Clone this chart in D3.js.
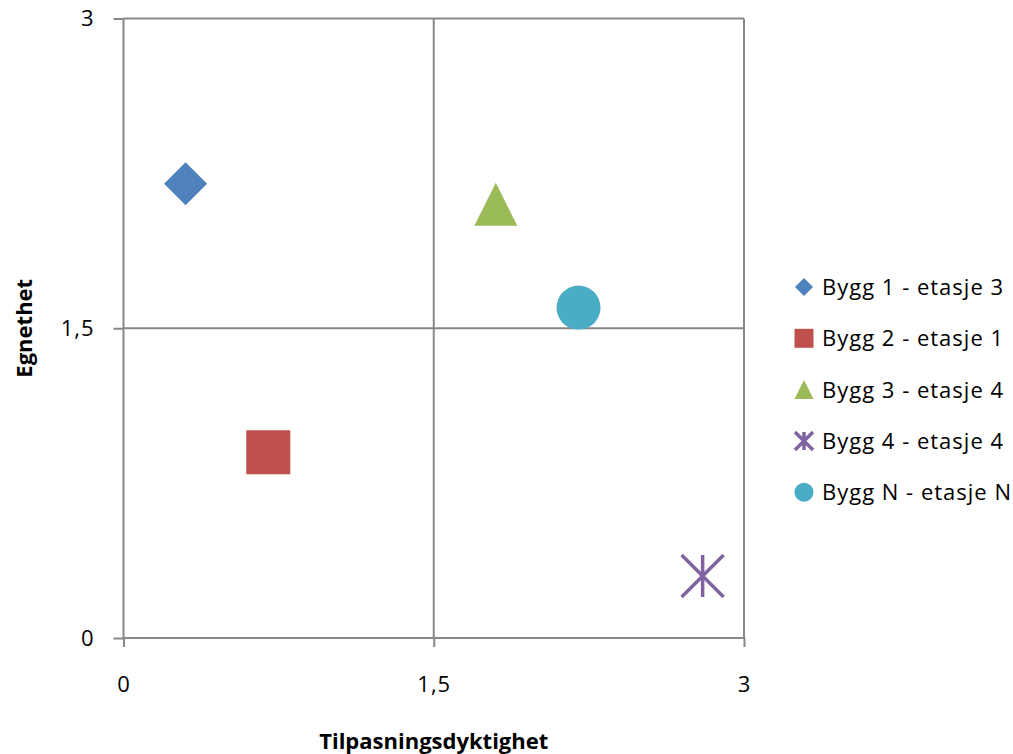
<!DOCTYPE html>
<html>
<head>
<meta charset="utf-8">
<script src="https://cdn.jsdelivr.net/npm/d3@7"></script>
<style>
  html, body { margin: 0; padding: 0; background: #fff; }
  svg { display: block; font-family: "Open Sans", Lato, sans-serif; }
</style>
</head>
<body>
<svg id="chart" width="1013" height="754"></svg>
<script>
// Buildings and their scores
const names = ["Bygg 1 - etasje 3", "Bygg 2 - etasje 1", "Bygg 3 - etasje 4", "Bygg 4 - etasje 4", "Bygg N - etasje N"];
const tilpasning = [0.3, 0.7, 1.8, 2.8, 2.2];   // x: Tilpasningsdyktighet
const egnethet   = [2.2, 0.9, 2.1, 0.3, 1.6];   // y: Egnethet
const colors = ["#4F81BD", "#C0504D", "#9BBB59", "#8064A2", "#4BACC6"];
const shapes = ["diamond", "square", "triangle", "star", "circle"];
const tickValues = [0, 1.5, 3];
const tickLabels = ["0", "1,5", "3"];

const svg = d3.select("#chart");
const margin = { left: 123.5, top: 18.5, right: 269, bottom: 116 };
const W = 1013, H = 754;
const x = d3.scaleLinear().domain([0, 3]).range([margin.left, W - margin.right]);
const y = d3.scaleLinear().domain([0, 3]).range([H - margin.bottom, margin.top]);
const fontSize = "22px";

// Custom marker shapes, size = marker width in px
const symbolTypes = {
  diamond: { draw(c, s) { const r = s / 2; c.moveTo(0, -r); c.lineTo(r, 0); c.lineTo(0, r); c.lineTo(-r, 0); c.closePath(); } },
  square:  { draw(c, s) { const r = s / 2; c.rect(-r, -r, s, s); } },
  triangle:{ draw(c, s) { const r = s / 2; c.moveTo(0, -r); c.lineTo(r, r); c.lineTo(-r, r); c.closePath(); } },
  circle:  { draw(c, s) { const r = s / 2; c.moveTo(r, 0); c.arc(0, 0, r, 0, 2 * Math.PI); } },
  star:    { draw(c, s) { const r = s / 2; c.moveTo(-r, -r); c.lineTo(r, r); c.moveTo(r, -r); c.lineTo(-r, r); c.moveTo(0, -r); c.lineTo(0, r); } }
};
const markerSize = { diamond: 43, square: 44, triangle: 43, circle: 44, star: 42 };
const legendSize = { diamond: 18, square: 19, triangle: 19, circle: 19, star: 18 };

const gridColor = "#878787";

// Grid lines at each tick value
const grid = svg.append("g");
grid.selectAll("line.v").data(tickValues).join("line")
  .attr("x1", d => x(d)).attr("x2", d => x(d))
  .attr("y1", y(3)).attr("y2", y(0))
  .attr("stroke", gridColor).attr("stroke-width", 2);
grid.selectAll("line.h").data(tickValues).join("line")
  .attr("x1", x(0)).attr("x2", x(3))
  .attr("y1", d => y(d)).attr("y2", d => y(d))
  .attr("stroke", gridColor).attr("stroke-width", 2);

// Axes
const fmt = d => tickLabels[tickValues.indexOf(d)];
const xAxis = svg.append("g")
  .attr("transform", `translate(0,${y(0)})`)
  .call(d3.axisBottom(x).tickValues(tickValues).tickFormat(fmt).tickSize(9).tickPadding(29));
const yAxis = svg.append("g")
  .attr("transform", `translate(${x(0)},0)`)
  .call(d3.axisLeft(y).tickValues(tickValues).tickFormat(fmt).tickSize(10).tickPadding(19));
[xAxis, yAxis].forEach(a => {
  a.select(".domain").remove();
  a.selectAll(".tick line").attr("stroke", gridColor).attr("stroke-width", 2);
  a.selectAll(".tick text").attr("fill", "#000")
    .style("font-size", fontSize).style("letter-spacing", "1px")
    .style("font-family", "'Open Sans', sans-serif");
});

// Axis titles
svg.append("text")
  .attr("x", x(1.5)).attr("y", 749)
  .attr("text-anchor", "middle")
  .style("font-size", fontSize).style("font-weight", "bold")
  .text("Tilpasningsdyktighet");
svg.append("text")
  .attr("transform", `translate(32,${y(1.5)}) rotate(-90)`)
  .attr("text-anchor", "middle")
  .style("font-size", fontSize).style("font-weight", "bold")
  .text("Egnethet");

// Data points
const idx = d3.range(names.length);
svg.append("g").selectAll("path").data(idx).join("path")
  .attr("transform", i => `translate(${x(tilpasning[i])},${y(egnethet[i])})`)
  .attr("d", i => d3.symbol(symbolTypes[shapes[i]], markerSize[shapes[i]])())
  .attr("fill", i => shapes[i] === "star" ? "none" : colors[i])
  .attr("stroke", i => shapes[i] === "star" ? colors[i] : "none")
  .attr("stroke-width", 3.5);

// Legend
const legend = svg.append("g").attr("transform", "translate(804,287)");
const rows = legend.selectAll("g").data(idx).join("g")
  .attr("transform", i => `translate(0,${i * 51.3})`);
rows.append("path")
  .attr("d", i => d3.symbol(symbolTypes[shapes[i]], legendSize[shapes[i]])())
  .attr("fill", i => shapes[i] === "star" ? "none" : colors[i])
  .attr("stroke", i => shapes[i] === "star" ? colors[i] : "none")
  .attr("stroke-width", 3.5);
rows.append("text")
  .attr("x", 18).attr("dy", "0.36em")
  .style("font-size", fontSize).style("letter-spacing", "1px")
  .text(i => names[i]);
</script>
</body>
</html>
